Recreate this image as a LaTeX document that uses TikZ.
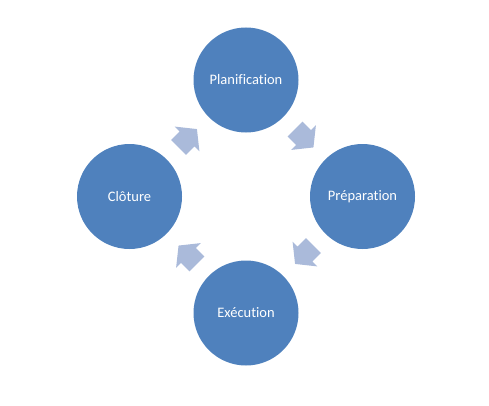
\documentclass[tikz,border=0pt]{standalone}
\usepackage{fontspec}
\setmainfont[Ligatures={NoCommon}]{Carlito}
\usetikzlibrary{calc}
\definecolor{circblue}{HTML}{4F81BD}
\definecolor{arrowblue}{HTML}{AABADA}
\tikzset{
  phase/.style={circle, fill=circblue, draw=none, minimum size=105pt, inner sep=0pt,
    text=white, font=\fontsize{14.5pt}{16pt}\selectfont},
  blockarrow/.style={fill=arrowblue, draw=none}
}
\newcommand{\cyclearrow}[3]{% #1,#2 node names, #3 direction angle
  \begin{scope}[shift={($(#1)!0.5!(#2)$)}, rotate=#3]
    \fill[blockarrow] (-13pt,-10.5pt) -- (-1pt,-10.5pt) -- (-1pt,-17.5pt) -- (13pt,0pt)
      -- (-1pt,17.5pt) -- (-1pt,10.5pt) -- (-13pt,10.5pt) -- cycle;
  \end{scope}}
\begin{document}
\begin{tikzpicture}[x=1pt,y=1pt]
  \useasboundingbox (0,0) rectangle (489,405);
  \coordinate (ctr) at (246,208.5);
  \node[phase] (plan) at ($(ctr)+(90:116.5)$) {Planification};
  \node[phase] (prep) at ($(ctr)+(0:116.5)$) {Préparation};
  \node[phase] (exec) at ($(ctr)+(270:116.5)$) {Exécution};
  \node[phase] (clot) at ($(ctr)+(180:116.5)$) {Clôture};
  \cyclearrow{plan}{prep}{-45}
  \cyclearrow{prep}{exec}{225}
  \cyclearrow{exec}{clot}{135}
  \cyclearrow{clot}{plan}{45}
\end{tikzpicture}
\end{document}
